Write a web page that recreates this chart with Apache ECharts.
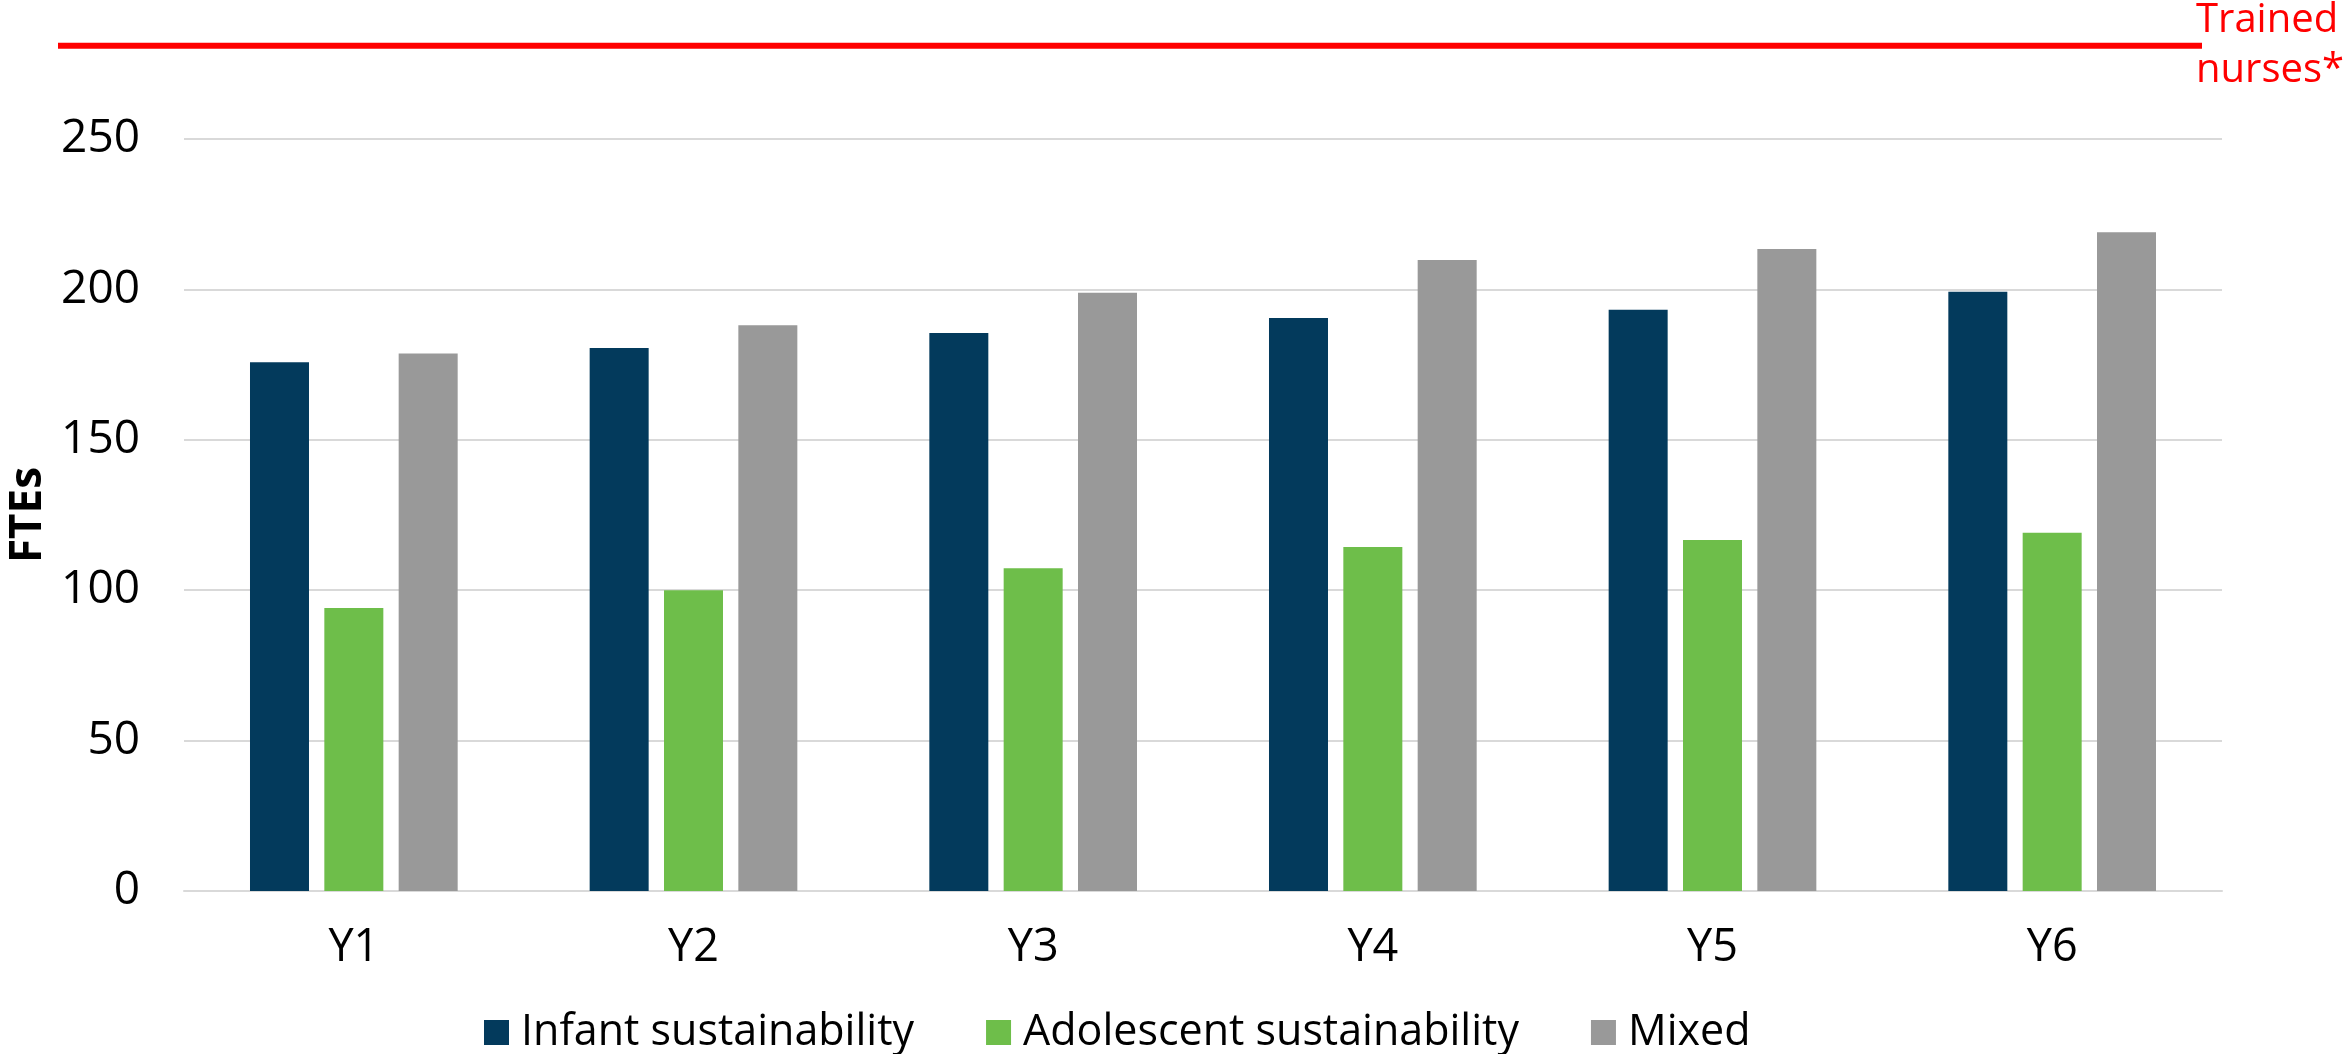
<!DOCTYPE html>
<html>
<head>
<meta charset="utf-8">
<script src="https://cdn.jsdelivr.net/npm/echarts@6/dist/echarts.min.js"></script>
<style>
  html, body { margin: 0; padding: 0; background: #fff; }
  #chart { width: 2344px; height: 1054px; }
</style>
</head>
<body>
<div id="chart"></div>
<script>
// Years on the category axis
const years = ['Y1', 'Y2', 'Y3', 'Y4', 'Y5', 'Y6'];

// FTEs required per model
const infantSustainability = [175.8, 180.5, 185.5, 190.5, 193.2, 199.2];
const adolescentSustainability = [94.1, 100, 107.3, 114.4, 116.7, 119.1];
const mixed = [178.7, 188.1, 198.9, 209.8, 213.4, 219.0];

// Trained nurse workforce (FTEs), shown as a reference line above the axis range
const trainedNurses = 281;

// Value axis ticks
const yTicks = [0, 50, 100, 150, 200, 250];

const FONT = '"Open Sans", "Liberation Sans", sans-serif';

const chart = echarts.init(document.getElementById('chart'), null, { renderer: 'canvas' });

chart.setOption({
  animation: false,
  textStyle: { fontFamily: FONT },
  color: ['#033A5C', '#6EBE4A', '#999999'],
  grid: [
    { left: 184, right: 122, top: 139, bottom: 163, containLabel: false, outerBoundsMode: 'none' },
    { left: 58, right: 142, top: 139, bottom: 163, containLabel: false, outerBoundsMode: 'none' }
  ],
  legend: {
    data: ['Infant sustainability', 'Adolescent sustainability', 'Mixed'],
    left: 479,
    top: 1006,
    icon: 'rect',
    itemWidth: 25,
    itemHeight: 25,
    itemGap: 72,
    textStyle: { fontFamily: FONT, fontSize: 43, color: '#000', padding: [0, 0, 0, 7] }
  },
  xAxis: [
    {
      type: 'category',
      gridIndex: 0,
      data: years,
      axisLine: { lineStyle: { color: '#d9d9d9', width: 2 } },
      axisTick: { show: false },
      axisLabel: { fontFamily: FONT, fontSize: 45, color: '#000', margin: 35 }
    },
    { type: 'value', gridIndex: 1, min: 0, max: 1, show: false }
  ],
  yAxis: [
    {
      type: 'value',
      gridIndex: 0,
      min: yTicks[0],
      max: yTicks[yTicks.length - 1],
      interval: yTicks[1] - yTicks[0],
      name: 'FTEs',
      nameLocation: 'middle',
      nameGap: 134,
      nameTextStyle: { fontFamily: FONT, fontSize: 44, fontWeight: 'bold', color: '#000' },
      axisLine: { show: false },
      axisTick: { show: false },
      axisLabel: { fontFamily: FONT, fontSize: 46, color: '#000', margin: 44 },
      splitLine: { lineStyle: { color: '#d9d9d9', width: 2 } }
    },
    {
      type: 'value',
      gridIndex: 1,
      min: yTicks[0],
      max: yTicks[yTicks.length - 1],
      show: false
    }
  ],
  series: [
    {
      name: 'Infant sustainability',
      type: 'bar',
      data: infantSustainability,
      barWidth: 59,
      barGap: '26%'
    },
    {
      name: 'Adolescent sustainability',
      type: 'bar',
      data: adolescentSustainability,
      barWidth: 59,
      barGap: '26%'
    },
    {
      name: 'Mixed',
      type: 'bar',
      data: mixed,
      barWidth: 59,
      barGap: '26%'
    },
    {
      name: 'Trained nurses*',
      type: 'line',
      xAxisIndex: 1,
      yAxisIndex: 1,
      clip: false,
      symbol: 'none',
      data: [[0, trainedNurses], [1, trainedNurses]],
      lineStyle: { color: '#ff0000', width: 6 },
      endLabel: {
        show: true,
        formatter: 'Trained\nnurses*',
        color: '#ff0000',
        fontFamily: FONT,
        fontSize: 40,
        lineHeight: 50,
        distance: 0,
        offset: [-6, 0]
      }
    }
  ]
});
</script>
</body>
</html>
